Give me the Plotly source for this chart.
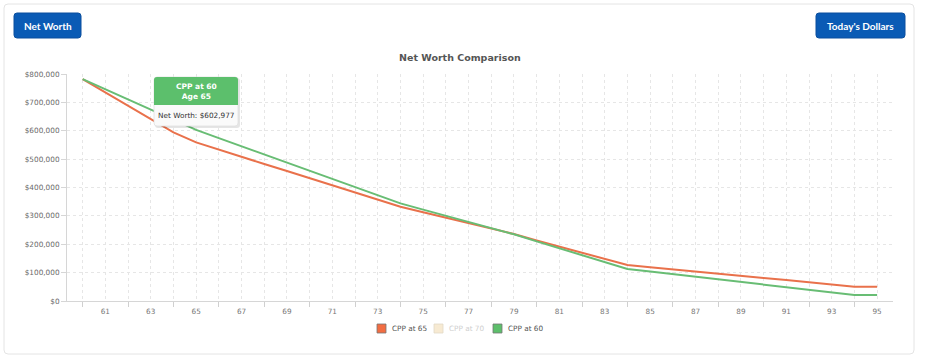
import plotly.graph_objects as go

# ---------------- data ----------------
ages = list(range(60, 96))
cpp65 = [782000, 735000, 688000, 641000, 594000, 559000, 533000, 508000, 483000, 458000,
         433000, 408000, 383000, 357000, 332000, 313000, 294000, 274000, 255000, 236000,
         213000, 191000, 169000, 147000, 127000, 119000, 111000, 103000, 95000, 88000,
         81000, 74000, 66000, 58000, 50000, 50000]
cpp60 = [782000, 746000, 710000, 674000, 638000, 602977, 574000, 545000, 516000, 488000,
         459000, 430000, 401000, 372000, 344000, 322000, 300000, 279000, 257000, 235000,
         210000, 186000, 161000, 137000, 113000, 104000, 95000, 86000, 76000, 67000,
         58000, 49000, 40000, 30000, 21000, 21000]
series_names = ["CPP at 65", "CPP at 70", "CPP at 60"]
y_ticks = [0, 100000, 200000, 300000, 400000, 500000, 600000, 700000, 800000]
title_text = "Net Worth Comparison"
button_left = "Net Worth"
button_right = "Today's Dollars"
tooltip_age = 65

# ---------------- layout geometry (pixels) ----------------
FW, FH = 929, 358
L, R, T, B = 67, 893, 74, 301
W, H = R - L, B - T


def px(x):
    return (x - L) / W


def py(y):
    return (B - y) / H


def rrect(x0, y0, x1, y1, r=3, top=True, bottom=True):
    rx, ry = r / W, r / H
    X0, X1 = px(x0), px(x1)
    Y0, Y1 = py(y0), py(y1)  # Y0 top (larger), Y1 bottom
    p = []
    if top:
        p.append(f"M{X0},{Y0 - ry} Q{X0},{Y0} {X0 + rx},{Y0} L{X1 - rx},{Y0} Q{X1},{Y0} {X1},{Y0 - ry}")
    else:
        p.append(f"M{X0},{Y0} L{X1},{Y0}")
    if bottom:
        p.append(f"L{X1},{Y1 + ry} Q{X1},{Y1} {X1 - rx},{Y1} L{X0 + rx},{Y1} Q{X0},{Y1} {X0},{Y1 + ry} Z")
    else:
        p.append(f"L{X1},{Y1} L{X0},{Y1} Z")
    return " ".join(p)


RED = "#e9714b"
GREEN = "#68bd74"
LEG_COLORS = ["#f26d42", "#f7ead2", "#5dbf6b"]
TICKFONT = dict(family="DejaVu Sans", size=7.3, color="#6a6a6a")
GRID = "#e6e6e6"
DASH = "3px,3px"

fig = go.Figure()
fig.add_trace(go.Scatter(x=ages, y=cpp65, mode="lines", name=series_names[0],
                         line=dict(color=RED, width=2), showlegend=False))
fig.add_trace(go.Scatter(x=ages, y=cpp60, mode="lines", name=series_names[2],
                         line=dict(color=GREEN, width=2), showlegend=False))

shapes = []
annotations = []

# card border
shapes.append(dict(type="path", xref="paper", yref="paper", layer="below",
                   path=rrect(4, 4, 914, 354, r=4),
                   line=dict(color="#e4e4e4", width=1), fillcolor="white"))

# buttons
for (x0, x1, label) in [(14, 81, button_left), (816, 905, button_right)]:
    shapes.append(dict(type="path", xref="paper", yref="paper",
                       path=rrect(x0, 13, x1, 38, r=3),
                       line=dict(color="#0b4f9e", width=1), fillcolor="#0a5bb5"))
    annotations.append(dict(xref="paper", yref="paper", x=px((x0 + x1) / 2), y=py(25.5),
                            text=f"<b>{label}</b>", showarrow=False, xanchor="center",
                            yanchor="middle", font=dict(family="Lato", size=10, color="white")))

# title
annotations.append(dict(xref="paper", yref="paper", x=px(459.5), y=py(58), text=f"<b>{title_text}</b>",
                        showarrow=False, xanchor="center", yanchor="middle",
                        font=dict(family="DejaVu Sans", size=9.5, color="#555")))

# legend (manual)
leg_box_x = [377, 434, 493]
for i, name in enumerate(series_names):
    bx = leg_box_x[i]
    hidden = (name == "CPP at 70")
    shapes.append(dict(type="rect", xref="paper", yref="paper",
                       x0=px(bx), x1=px(bx + 9), y0=py(333), y1=py(324),
                       fillcolor=LEG_COLORS[i],
                       line=dict(color="#e2d9c6" if hidden else "#777", width=0.8)))
    annotations.append(dict(xref="paper", yref="paper", x=px(bx + 13), y=py(328.5), text=name,
                            showarrow=False, xanchor="left", yanchor="middle",
                            font=dict(family="DejaVu Sans", size=7.3,
                                      color="#cfcfcf" if hidden else "#555")))

# tooltip
idx = ages.index(tooltip_age)
shapes.append(dict(type="path", xref="paper", yref="paper",
                   path=rrect(155, 78, 240, 128, r=3),
                   line=dict(width=0), fillcolor="rgba(0,0,0,0.10)"))
shapes.append(dict(type="path", xref="paper", yref="paper",
                   path=rrect(154, 77, 238, 126, r=3),
                   line=dict(color="#e0e0e0", width=0.8), fillcolor="#fafafa"))
shapes.append(dict(type="path", xref="paper", yref="paper",
                   path=rrect(154, 77, 238, 105, r=3, bottom=False),
                   line=dict(width=0), fillcolor="#5cbf6c"))
annotations.append(dict(xref="paper", yref="paper", x=px(196), y=py(91),
                        text=f"<b>{series_names[2]}</b><br><b>Age {tooltip_age}</b>",
                        showarrow=False, xanchor="center", yanchor="middle",
                        font=dict(family="DejaVu Sans", size=7.5, color="white")))
annotations.append(dict(xref="paper", yref="paper", x=px(196), y=py(115.5),
                        text=f"Net Worth: ${cpp60[idx]:,}",
                        showarrow=False, xanchor="center", yanchor="middle",
                        font=dict(family="DejaVu Sans", size=7.3, color="#333")))

fig.update_layout(
    width=FW, height=FH,
    margin=dict(l=L, r=FW - R, t=T, b=FH - B),
    paper_bgcolor="white", plot_bgcolor="white",
    showlegend=False, hovermode=False,
    shapes=shapes, annotations=annotations,
)

fig.update_xaxes(
    range=[59.31, 95.7], tick0=61, dtick=2, ticks="", showline=True,
    linecolor="#d6d6d6", linewidth=1, showgrid=True, gridcolor=GRID,
    griddash=DASH, gridwidth=1, zeroline=False, tickfont=dict(TICKFONT, color="#777"),
    ticklabelstandoff=3,
    minor=dict(tick0=60, dtick=1, ticks="outside", ticklen=5, tickcolor="#d0d0d0",
               showgrid=True, gridcolor=GRID, griddash=DASH),
    fixedrange=True,
)
fig.update_yaxes(
    range=[0, 800000], tickvals=y_ticks, tickformat="$,.0f", ticks="outside",
    ticklen=5, tickcolor="#d6d6d6", showline=True, linecolor="#d6d6d6", linewidth=1,
    showgrid=True, gridcolor=GRID, griddash=DASH, zeroline=False,
    tickfont=TICKFONT, fixedrange=True,
)

fig.write_html("out.html", config=dict(displayModeBar=False),
               post_script="document.body.style.margin='0';document.body.style.overflow='hidden';")
